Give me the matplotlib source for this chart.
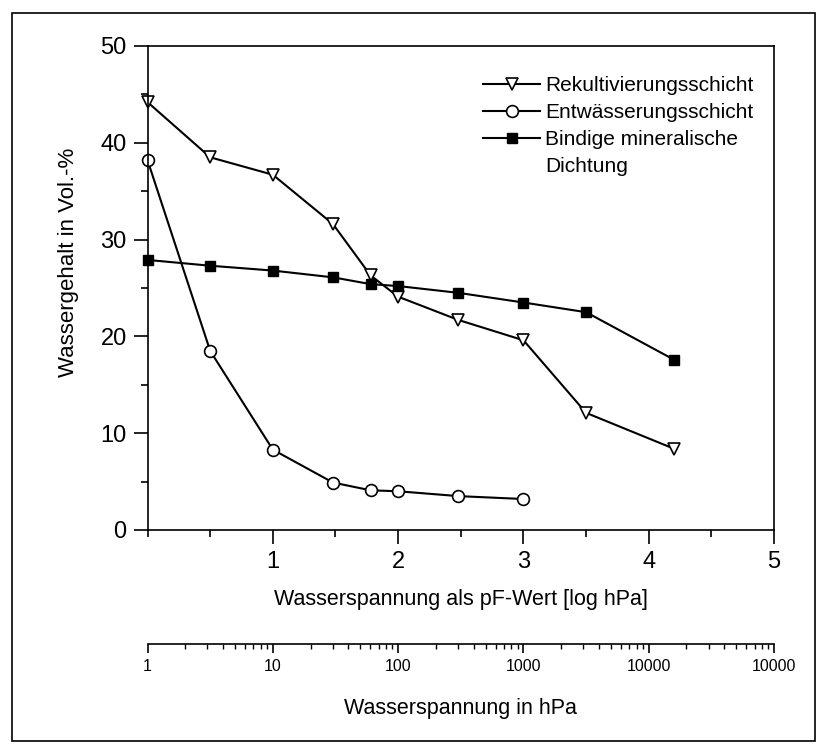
import numpy as np
import matplotlib.pyplot as plt
from matplotlib.patches import Rectangle
from matplotlib.lines import Line2D
from matplotlib.transforms import blended_transform_factory
from matplotlib.ticker import MultipleLocator, FixedLocator, FixedFormatter, LogLocator, NullFormatter

plt.rcParams['font.family'] = ['Liberation Sans', 'DejaVu Sans']

# pF-Werte (log hPa) und Wassergehalte in Vol.-%
pf_rek = [0, 0.5, 1.0, 1.48, 1.78, 2.0, 2.48, 3.0, 3.5, 4.2]
wg_rek = [44.2, 38.5, 36.7, 31.6, 26.3, 24.1, 21.7, 19.6, 12.1, 8.4]

pf_ent = [0, 0.5, 1.0, 1.48, 1.78, 2.0, 2.48, 3.0]
wg_ent = [38.2, 18.5, 8.3, 4.9, 4.1, 4.0, 3.5, 3.2]

pf_bin = [0, 0.5, 1.0, 1.48, 1.78, 2.0, 2.48, 3.0, 3.5, 4.2]
wg_bin = [27.9, 27.3, 26.8, 26.1, 25.4, 25.2, 24.5, 23.5, 22.5, 17.6]

hpa_ticks = [1, 10, 100, 1000, 10000, 100000]
hpa_labels = ['1', '10', '100', '1000', '10000', '10000']

fig = plt.figure(figsize=(8.27, 7.54), dpi=100)
fig.patches.append(Rectangle((12 / 827, 13 / 754), 803 / 827, 728 / 754,
                             transform=fig.transFigure, fill=False,
                             edgecolor='black', linewidth=1.2))

ax = fig.add_axes([0.1784, 0.2971, 0.7576, 0.6419])
h1, = ax.plot(pf_rek, wg_rek, color='black', lw=1.5, marker='v', ms=9,
              mfc='white', mec='black', mew=1.2, clip_on=False)
h2, = ax.plot(pf_ent, wg_ent, color='black', lw=1.5, marker='o', ms=8.5,
              mfc='white', mec='black', mew=1.2, clip_on=False)
h3, = ax.plot(pf_bin, wg_bin, color='black', lw=1.5, marker='s', ms=6.5,
              mfc='black', mec='black', clip_on=False)

ax.set_xlim(0, 5)
ax.set_ylim(0, 50)
ax.xaxis.set_major_locator(FixedLocator([1, 2, 3, 4, 5]))
ax.xaxis.set_minor_locator(MultipleLocator(0.5))
ax.yaxis.set_major_locator(MultipleLocator(10))
ax.yaxis.set_minor_locator(MultipleLocator(5))
ax.tick_params(axis='both', which='major', direction='out', length=10, width=1.2,
               labelsize=17, pad=5)
ax.tick_params(axis='both', which='minor', direction='out', length=5, width=1.2)
for s in ax.spines.values():
    s.set_linewidth(1.2)
ax.set_xlabel('Wasserspannung als pF-Wert [log hPa]', fontsize=15.5)
ax.xaxis.set_label_coords(0.5, -0.122)
ax.set_ylabel('Wassergehalt in Vol.-%', fontsize=16)
ax.yaxis.set_label_coords(-0.109, 0.552)

blank = Line2D([], [], color='none')
ax.legend([h1, h2, h3, blank],
          ['Rekultivierungsschicht', 'Entwässerungsschicht',
           'Bindige mineralische', 'Dichtung'],
          loc='upper left', bbox_to_anchor=(0.5355, 0.937), frameon=False,
          fontsize=15, handlelength=2.74, handletextpad=0.25, labelspacing=0.38,
          borderpad=0, borderaxespad=0)

# zweite Achse in hPa
ax2 = fig.add_axes([0.1784, 0.1459, 0.7576, 0.0001])
ax2.set_xscale('log')
ax2.set_xlim(1, 100000)
ax2.set_yticks([])
for side in ['top', 'left', 'right']:
    ax2.spines[side].set_visible(False)
ax2.spines['bottom'].set_linewidth(1.2)
ax2.xaxis.set_major_locator(FixedLocator(hpa_ticks))
ax2.xaxis.set_major_formatter(FixedFormatter(hpa_labels))
ax2.xaxis.set_minor_locator(LogLocator(base=10, subs=np.arange(2, 10), numticks=20))
ax2.xaxis.set_minor_formatter(NullFormatter())
ax2.tick_params(axis='x', which='major', direction='out', length=6.5, width=1.2,
                labelsize=11.5, pad=4.5)
ax2.tick_params(axis='x', which='minor', direction='out', length=3.5, width=1.0)
ax2.set_xlabel('Wasserspannung in hPa', fontsize=15.5)
ax2.xaxis.set_label_coords(0.5, 1 - 698 / 754,
                           transform=blended_transform_factory(ax2.transAxes, fig.transFigure))

fig.savefig('out.png', dpi=100)
